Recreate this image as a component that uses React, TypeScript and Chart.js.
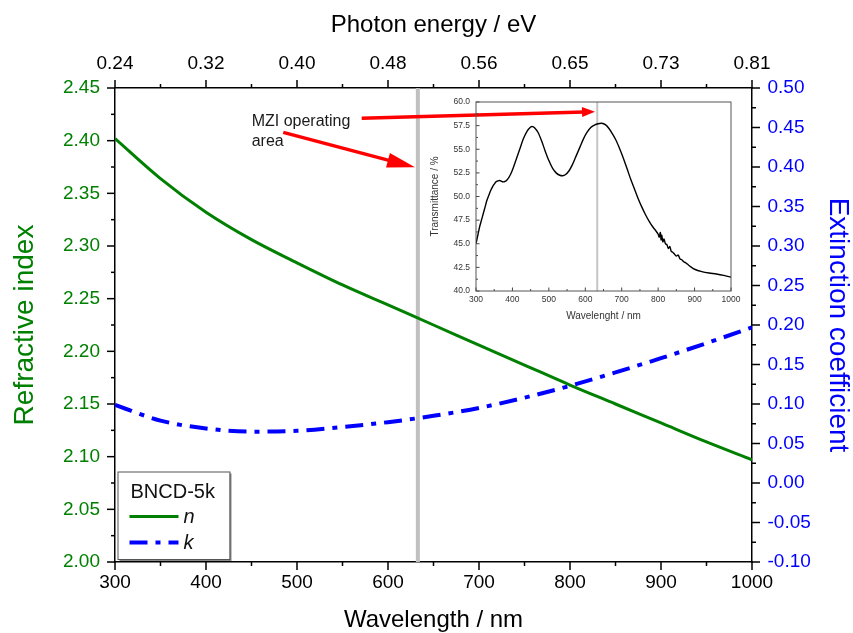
import React, { useEffect, useRef } from 'react';
import { Chart, registerables } from 'chart.js';

Chart.register(...registerables);

const FONT = "'Liberation Sans', Arial, Helvetica, sans-serif";

// ---- Main chart data ----
const wavelengths = [300, 350, 400, 450, 500, 550, 600, 650, 700, 750, 800, 850, 900, 950, 1000];
const nValues = [2.402, 2.364, 2.332, 2.306, 2.284, 2.263, 2.244, 2.225, 2.206, 2.187, 2.168, 2.150, 2.132, 2.114, 2.097];
const kValues = [0.099, 0.079, 0.069, 0.065, 0.066, 0.071, 0.077, 0.085, 0.095, 0.108, 0.123, 0.140, 0.158, 0.177, 0.197];

const wavelengthTicks = [300, 400, 500, 600, 700, 800, 900, 1000];
const energyTickLabels = ['0.24', '0.32', '0.40', '0.48', '0.56', '0.65', '0.73', '0.81'];
const nTicks = [2.0, 2.05, 2.1, 2.15, 2.2, 2.25, 2.3, 2.35, 2.4, 2.45];
const kTicks = [-0.1, -0.05, 0, 0.05, 0.1, 0.15, 0.2, 0.25, 0.3, 0.35, 0.4, 0.45, 0.5];

const markerWavelength = 632.8;
const legendTitle = 'BNCD-5k';
const noteLines = ['MZI operating', 'area'];

// ---- Inset data ----
const transWl = [300, 305, 310, 315, 320, 325, 330, 335, 340, 345, 350, 355, 360, 365, 370, 375, 380, 385, 390, 395, 400, 410, 420, 430, 440, 450, 455, 460, 470, 480, 490, 500, 510, 520, 530, 538, 545, 555, 565, 575, 585, 595, 605, 615, 625, 635, 645, 655, 665, 675, 685, 695, 705, 715, 725, 735, 745, 755, 765, 775, 785, 795, 800, 803, 806, 808, 810, 813, 816, 820, 824, 828, 832, 836, 840, 845, 850, 855, 860, 865, 870, 875, 880, 890, 900, 920, 940, 960, 980, 1000];
const transVal = [45.0, 45.9, 46.8, 47.5, 48.2, 48.9, 49.6, 50.1, 50.6, 51.0, 51.3, 51.55, 51.65, 51.7, 51.6, 51.55, 51.6, 51.75, 52.0, 52.35, 52.8, 53.9, 55.0, 56.1, 56.9, 57.35, 57.4, 57.3, 56.8, 55.9, 54.8, 53.8, 53.0, 52.5, 52.25, 52.2, 52.3, 52.7, 53.4, 54.3, 55.2, 56.1, 56.8, 57.3, 57.55, 57.7, 57.75, 57.6, 57.2, 56.6, 55.9, 55.0, 54.0, 52.9, 51.8, 50.8, 49.8, 48.9, 48.1, 47.4, 46.8, 46.3, 46.0, 45.7, 46.2, 45.4, 45.9, 45.2, 45.5, 45.0, 44.9, 44.5, 44.7, 44.2, 44.1, 43.9, 43.7, 43.8, 43.4, 43.3, 43.1, 43.0, 42.85, 42.55, 42.3, 42.05, 41.9, 41.8, 41.65, 41.45];
const insetXTicks = [300, 400, 500, 600, 700, 800, 900, 1000];
const insetYTicks = [40, 42.5, 45, 47.5, 50, 52.5, 55, 57.5, 60];

// ---- Annotation geometry (data units of the main chart) ----
const noteAnchor = [450.2, 2.4142];
const arrows = [
  { from: [571.1, 2.4212], to: [827.5, 2.4275], head: 13, width: 10 },
  { from: [484.9, 2.4079], to: [629.7, 2.3747], head: 28, width: 15 },
];

const GREEN = '#008000';
const BLUE = '#0000ff';
const KDASH = [18, 8, 5, 8];

function midpoints(a: number[]) {
  const out: number[] = [];
  for (let i = 0; i < a.length - 1; i++) out.push((a[i] + a[i + 1]) / 2);
  return out;
}

const customTicks = {
  id: 'customTicks',
  afterDraw(chart: any, _args: any, opts: any) {
    const ctx = chart.ctx;
    const dir = opts.inward ? -1 : 1;
    ctx.save();
    ctx.strokeStyle = opts.color;
    ctx.lineWidth = opts.width;
    Object.keys(chart.scales).forEach((id) => {
      const s = chart.scales[id];
      const vals = s.ticks.map((t: any) => t.value);
      const draw = (arr: number[], len: number) => {
        arr.forEach((v) => {
          const p = s.getPixelForValue(v);
          ctx.beginPath();
          if (s.isHorizontal()) {
            const top = s.position === 'top';
            const y0 = top ? s.bottom : s.top;
            const sign = top ? -1 : 1;
            ctx.moveTo(p, y0);
            ctx.lineTo(p, y0 + sign * dir * len);
          } else {
            const left = s.position === 'left';
            const x0 = left ? s.right : s.left;
            const sign = left ? -1 : 1;
            ctx.moveTo(x0, p);
            ctx.lineTo(x0 + sign * dir * len, p);
          }
          ctx.stroke();
        });
      };
      draw(vals, opts.major);
      draw(midpoints(vals), opts.minor);
    });
    ctx.restore();
  },
};

const frame = {
  id: 'frame',
  afterDraw(chart: any, _args: any, opts: any) {
    const { ctx, chartArea: ca } = chart;
    ctx.save();
    ctx.strokeStyle = opts.color;
    ctx.lineWidth = opts.width;
    ctx.strokeRect(ca.left, ca.top, ca.right - ca.left, ca.bottom - ca.top);
    ctx.restore();
  },
};

const mziNote = {
  id: 'mziNote',
  afterDatasetsDraw(chart: any) {
    const { ctx, scales } = chart;
    const xs = scales.x;
    const ys = scales.y;
    ctx.save();
    ctx.fillStyle = '#1a1a1a';
    ctx.font = `16px ${FONT}`;
    ctx.textAlign = 'left';
    ctx.textBaseline = 'alphabetic';
    const tx = xs.getPixelForValue(noteAnchor[0]);
    const ty = ys.getPixelForValue(noteAnchor[1]);
    noteLines.forEach((line, i) => ctx.fillText(line, tx, ty + i * 20));
    arrows.forEach((a) => {
      const x1 = xs.getPixelForValue(a.from[0]);
      const y1 = ys.getPixelForValue(a.from[1]);
      const x2 = xs.getPixelForValue(a.to[0]);
      const y2 = ys.getPixelForValue(a.to[1]);
      const ang = Math.atan2(y2 - y1, x2 - x1);
      const c = Math.cos(ang);
      const s = Math.sin(ang);
      const bx = x2 - a.head * c;
      const by = y2 - a.head * s;
      ctx.strokeStyle = '#ff0000';
      ctx.lineWidth = 3.5;
      ctx.lineCap = 'butt';
      ctx.beginPath();
      ctx.moveTo(x1, y1);
      ctx.lineTo(bx + 2 * c, by + 2 * s);
      ctx.stroke();
      ctx.fillStyle = '#ff0000';
      ctx.beginPath();
      ctx.moveTo(x2, y2);
      ctx.lineTo(bx + (a.width / 2) * s, by - (a.width / 2) * c);
      ctx.lineTo(bx - (a.width / 2) * s, by + (a.width / 2) * c);
      ctx.closePath();
      ctx.fill();
    });
    ctx.restore();
  },
};

const boxLegend = {
  id: 'boxLegend',
  afterDraw(chart: any) {
    const { ctx, chartArea: ca } = chart;
    const ds = chart.data.datasets;
    const bx = ca.left + 2.5;
    const by = ca.bottom - 90.5;
    const bw = 112;
    const bh = 87.5;
    ctx.save();
    ctx.fillStyle = '#8a8a8a';
    ctx.fillRect(bx + 2, by + 2, bw, bh);
    ctx.fillStyle = '#ffffff';
    ctx.fillRect(bx, by, bw, bh);
    ctx.strokeStyle = '#555555';
    ctx.lineWidth = 1;
    ctx.strokeRect(bx + 0.5, by + 0.5, bw, bh);
    ctx.fillStyle = '#111';
    ctx.font = `20px ${FONT}`;
    ctx.textAlign = 'left';
    ctx.textBaseline = 'alphabetic';
    ctx.fillText(legendTitle, bx + 13, by + 26);
    const rows = [ds[0], ds[1]];
    rows.forEach((d: any, i: number) => {
      const y = by + 45 + i * 26;
      ctx.strokeStyle = d.borderColor;
      ctx.lineWidth = d.borderWidth;
      ctx.setLineDash(d.borderDash || []);
      ctx.beginPath();
      ctx.moveTo(bx + 12, y);
      ctx.lineTo(bx + 61, y);
      ctx.stroke();
      ctx.setLineDash([]);
      ctx.fillStyle = '#111';
      ctx.font = `italic 20px ${FONT}`;
      ctx.fillText(d.label, bx + 66, y + 6);
    });
    ctx.restore();
  },
};

const fmt2 = (v: any) => Number(v).toFixed(2);
const fmtInt = (v: any) => String(Math.round(Number(v)));

export default function App() {
  const mainRef = useRef<HTMLCanvasElement | null>(null);
  const insetRef = useRef<HTMLCanvasElement | null>(null);

  useEffect(() => {
    document.body.style.margin = '0';
    const setTicks = (arr: number[]) => (scale: any) => {
      scale.ticks = arr.map((v) => ({ value: v }));
    };
    const axisBase = {
      grid: { display: false, drawTicks: false, drawOnChartArea: false },
      border: { display: true, color: '#000', width: 1.5 },
    };

    const main = new Chart(mainRef.current as HTMLCanvasElement, {
      type: 'line',
      data: {
        datasets: [
          {
            label: 'n',
            data: wavelengths.map((w, i) => ({ x: w, y: nValues[i] })),
            borderColor: GREEN,
            borderWidth: 3,
            pointRadius: 0,
            cubicInterpolationMode: 'monotone',
            xAxisID: 'x',
            yAxisID: 'y',
            order: 1,
          },
          {
            label: 'k',
            data: wavelengths.map((w, i) => ({ x: w, y: kValues[i] })),
            borderColor: BLUE,
            borderWidth: 4,
            borderDash: KDASH,
            pointRadius: 0,
            cubicInterpolationMode: 'monotone',
            xAxisID: 'x',
            yAxisID: 'y2',
            order: 2,
          },
          {
            label: 'marker',
            data: [
              { x: markerWavelength, y: nTicks[0] },
              { x: markerWavelength, y: nTicks[nTicks.length - 1] },
            ],
            borderColor: '#c0c0c0',
            borderWidth: 4,
            pointRadius: 0,
            xAxisID: 'x',
            yAxisID: 'y',
            order: 10,
          },
        ],
      } as any,
      options: {
        animation: false,
        responsive: false,
        maintainAspectRatio: false,
        layout: { padding: 0 },
        plugins: {
          legend: { display: false },
          tooltip: { enabled: false },
          customTicks: { inward: false, major: 8, minor: 4, width: 1.5, color: '#000' },
        } as any,
        scales: {
          x: {
            type: 'linear',
            position: 'bottom',
            min: 300,
            max: 1000,
            ...axisBase,
            afterBuildTicks: setTicks(wavelengthTicks),
            afterFit: (s: any) => { s.height = 71; },
            ticks: { autoSkip: false, maxRotation: 0, padding: 9, color: '#000', font: { size: 19, family: FONT }, callback: fmtInt },
            title: { display: true, text: 'Wavelength / nm', color: '#000', font: { size: 24, family: FONT, lineHeight: 1 }, padding: { top: 0, bottom: 1 } },
          },
          x2: {
            type: 'linear',
            position: 'top',
            min: 300,
            max: 1000,
            ...axisBase,
            afterBuildTicks: setTicks(wavelengthTicks),
            afterFit: (s: any) => { s.height = 88; },
            ticks: {
              autoSkip: false, maxRotation: 0, padding: 13, color: '#000', font: { size: 19, family: FONT },
              callback: (_v: any, i: number) => energyTickLabels[i],
            },
            title: { display: true, text: 'Photon energy / eV', color: '#000', font: { size: 24, family: FONT, lineHeight: 1 }, padding: { top: 13, bottom: 0 } },
          },
          y: {
            type: 'linear',
            position: 'left',
            min: 2.0,
            max: 2.45,
            ...axisBase,
            afterBuildTicks: setTicks(nTicks),
            afterFit: (s: any) => { s.width = 115; },
            ticks: { autoSkip: false, padding: 15, color: GREEN, font: { size: 19, family: FONT }, callback: fmt2 },
            title: { display: true, text: 'Refractive index', color: GREEN, font: { size: 28, family: FONT, lineHeight: 1 }, padding: { top: 11, bottom: 0 } },
          },
          y2: {
            type: 'linear',
            position: 'right',
            min: -0.1,
            max: 0.5,
            ...axisBase,
            afterBuildTicks: setTicks(kTicks),
            afterFit: (s: any) => { s.width = 101; },
            ticks: { autoSkip: false, padding: 15.5, color: BLUE, font: { size: 19, family: FONT }, callback: fmt2 },
            title: { display: true, text: 'Extinction coefficient', color: BLUE, font: { size: 28, family: FONT, lineHeight: 1 }, padding: { top: 1, bottom: 0 } },
          },
        } as any,
      },
      plugins: [customTicks, mziNote, boxLegend] as any,
    });

    const insetAxis = {
      grid: { display: false, drawTicks: false, drawOnChartArea: false },
      border: { display: false },
    };
    const inset = new Chart(insetRef.current as HTMLCanvasElement, {
      type: 'line',
      data: {
        datasets: [
          {
            label: 'T',
            data: transWl.map((w, i) => ({ x: w, y: transVal[i] })),
            borderColor: '#000',
            borderWidth: 1.4,
            pointRadius: 0,
            tension: 0.3,
            order: 1,
          },
          {
            label: 'marker',
            data: [
              { x: markerWavelength, y: insetYTicks[0] },
              { x: markerWavelength, y: insetYTicks[insetYTicks.length - 1] },
            ],
            borderColor: '#c4c4c4',
            borderWidth: 2,
            pointRadius: 0,
            order: 5,
          },
        ],
      } as any,
      options: {
        animation: false,
        responsive: false,
        maintainAspectRatio: false,
        layout: { padding: { top: 12, right: 19, left: 0, bottom: 0 } },
        plugins: {
          legend: { display: false },
          tooltip: { enabled: false },
          customTicks: { inward: true, major: 3.5, minor: 2, width: 1, color: '#444' },
          frame: { color: '#555', width: 1 },
        } as any,
        scales: {
          x: {
            type: 'linear',
            min: 300,
            max: 1000,
            ...insetAxis,
            afterBuildTicks: setTicks(insetXTicks),
            afterFit: (s: any) => { s.height = 39; },
            ticks: { autoSkip: false, maxRotation: 0, padding: 4, color: '#333', font: { size: 8.5, family: FONT }, callback: fmtInt },
            title: { display: true, text: 'Wavelenght / nm', color: '#333', font: { size: 10, family: FONT, lineHeight: 1 }, padding: { top: 0, bottom: 9 } },
          },
          y: {
            type: 'linear',
            min: 40,
            max: 60,
            ...insetAxis,
            afterBuildTicks: setTicks(insetYTicks),
            afterFit: (s: any) => { s.width = 56; },
            ticks: { autoSkip: false, padding: 6, color: '#333', font: { size: 8.5, family: FONT }, callback: (v: any) => Number(v).toFixed(1) },
            title: { display: true, text: 'Transmittance / %', color: '#333', font: { size: 10, family: FONT, lineHeight: 1 }, padding: { top: 10, bottom: 0 } },
          },
        } as any,
      },
      plugins: [customTicks, frame] as any,
    });

    return () => {
      main.destroy();
      inset.destroy();
    };
  }, []);

  return (
    <div style={{ position: 'absolute', left: 0, top: 0, width: 853, height: 633, background: '#fff' }}>
      <canvas ref={mainRef} width={853} height={633} style={{ position: 'absolute', left: 0, top: 0, width: 853, height: 633 }} />
      <canvas ref={insetRef} width={330} height={240} style={{ position: 'absolute', left: 420, top: 90, width: 330, height: 240 }} />
    </div>
  );
}
